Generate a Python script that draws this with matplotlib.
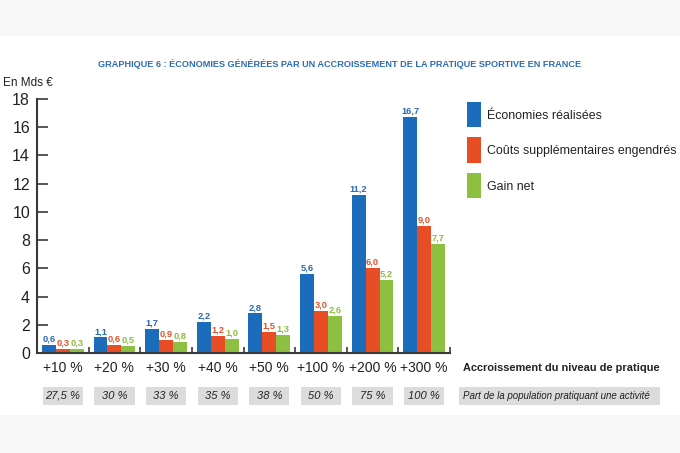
import numpy as np
import matplotlib
matplotlib.use("Agg")
import matplotlib.pyplot as plt
from matplotlib.patches import Rectangle
import matplotlib.transforms as mtransforms

plt.rcParams['font.family'] = ['Liberation Sans', 'DejaVu Sans']

# ── data ────────────────────────────────────────────────────────────
categories = ['+10 %', '+20 %', '+30 %', '+40 %', '+50 %', '+100 %', '+200 %', '+300 %']
parts = ['27,5 %', '30 %', '33 %', '35 %', '38 %', '50 %', '75 %', '100 %']
economies = [0.6, 1.1, 1.7, 2.2, 2.8, 5.6, 11.2, 16.7]
couts = [0.3, 0.6, 0.9, 1.2, 1.5, 3.0, 6.0, 9.0]
gain = [0.3, 0.5, 0.8, 1.0, 1.3, 2.6, 5.2, 7.7]
series_names = ['Économies réalisées', 'Coûts supplémentaires engendrés', 'Gain net']

blue, red, green = '#1b6cbb', '#e84e25', '#8dc040'
txt_blue, txt_red, txt_green = '#2a68b4', '#e5502a', '#8cbd3c'
axis_col = '#3a3a3a'
ink = '#222222'

W, H = 680, 453
fig = plt.figure(figsize=(6.8, 4.53), dpi=100)
fig.patch.set_facecolor('white')
renderer = fig.canvas.get_renderer()


def fit_width(t, target_px):
    # shrink/grow the font so the text spans target_px (the reference uses a condensed face)
    w = t.get_window_extent(renderer=renderer).width
    t.set_fontsize(t.get_fontsize() * target_px / w)
    return t.get_fontsize()


# light grey strips top and bottom
fig.patches.append(Rectangle((0, 1 - 36 / H), 1, 36 / H, transform=fig.transFigure,
                             facecolor='#f7f8f7', edgecolor='none', zorder=0))
fig.patches.append(Rectangle((0, 0), 1, 38 / H, transform=fig.transFigure,
                             facecolor='#f7f8f7', edgecolor='none', zorder=0))

ax = fig.add_axes([37 / W, 1 - 353 / H, 413 / W, 254 / H])
ax.set_facecolor('none')

x = np.arange(len(categories))
bw = 0.27
for vals, off, col, tcol in [(economies, -bw, blue, txt_blue),
                             (couts, 0, red, txt_red),
                             (gain, bw, green, txt_green)]:
    ax.bar(x + off, vals, width=bw, color=col, edgecolor='none', zorder=2)
    for xi, v in zip(x + off, vals):
        ax.text(xi, v + 0.1, f"{v:.1f}".replace('.', ','), ha='center', va='bottom',
                fontsize=6.7, fontweight='bold', color=tcol)

ax.set_xlim(-0.5, 7.5)
ax.set_ylim(0, 18)
ax.set_yticks(range(0, 19, 2))
ax.tick_params(axis='y', direction='in', length=8, width=1.2, color=axis_col,
               labelsize=11.5, pad=5, labelcolor=ink)
ax.set_xticks(x)
ax.set_xticklabels(categories)
ax.tick_params(axis='x', which='major', length=0, pad=6, labelsize=10, labelcolor=ink)
ax.set_xticks(np.arange(0.5, 8, 1), minor=True)
ax.tick_params(axis='x', which='minor', direction='in', length=4, width=1.2, color=axis_col)

for s in ['top', 'right']:
    ax.spines[s].set_visible(False)
for s in ['left', 'bottom']:
    ax.spines[s].set_color(axis_col)
    ax.spines[s].set_linewidth(1.5)

# population share boxes
trans = mtransforms.blended_transform_factory(ax.transData, fig.transFigure)
by0, by1 = 1 - 405 / H, 1 - 387 / H
for xi, p in zip(x, parts):
    ax.add_patch(Rectangle((xi - 0.39, by0), 0.78, by1 - by0, transform=trans,
                           facecolor='#dcdcdc', edgecolor='none', clip_on=False))
    ax.text(xi, (by0 + by1) / 2, p, transform=trans, ha='center', va='center',
            fontsize=8, style='italic', color=ink)

fig.patches.append(Rectangle((459 / W, by0), 201 / W, by1 - by0, transform=fig.transFigure,
                             facecolor='#dcdcdc', edgecolor='none'))
t = fig.text(463 / W, (by0 + by1) / 2, 'Part de la population pratiquant une activité',
             ha='left', va='center', fontsize=8, style='italic', color=ink)
fit_width(t, 190)
t = fig.text(463 / W, 1 - 368 / H, 'Accroissement du niveau de pratique',
             ha='left', va='center', fontsize=8, fontweight='bold', color=ink)
fit_width(t, 197)

# legend
leg_texts = []
for name, col, (y0, y1) in zip(series_names, [blue, red, green],
                               [(102, 127), (137, 163), (173, 198)]):
    fig.patches.append(Rectangle((467 / W, 1 - y1 / H), 14 / W, (y1 - y0) / H,
                                 transform=fig.transFigure, facecolor=col, edgecolor='none'))
    leg_texts.append(fig.text(487 / W, 1 - ((y0 + y1) / 2 + 1) / H, name, ha='left',
                              va='center', fontsize=9, color=ink))
size = fit_width(leg_texts[1], 189)
for lt in leg_texts:
    lt.set_fontsize(size)

t = fig.text(340 / W, 1 - 64 / H,
             'GRAPHIQUE 6 : ÉCONOMIES GÉNÉRÉES PAR UN ACCROISSEMENT DE LA PRATIQUE SPORTIVE EN FRANCE',
             ha='center', va='center', fontsize=7, fontweight='bold', color='#2e6db0')
fit_width(t, 480)
fig.text(3 / W, 1 - 83 / H, 'En Mds €', ha='left', va='center', fontsize=8.5, color=ink)

fig.savefig('out.png', dpi=100)
